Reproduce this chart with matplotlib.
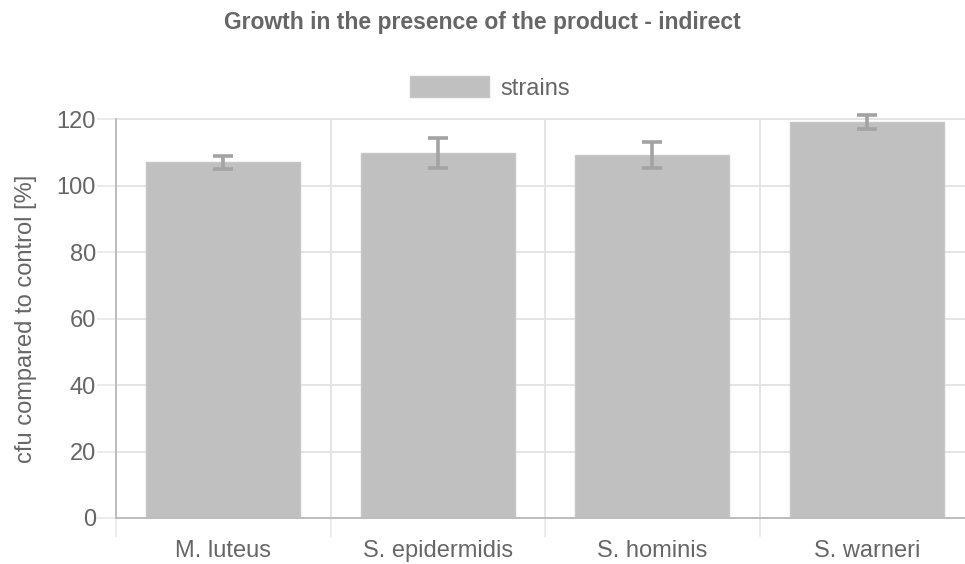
import numpy as np
import matplotlib.pyplot as plt

strains = ['M. luteus', 'S. epidermidis', 'S. hominis', 'S. warneri']
growth = [107.1, 109.8, 109.3, 119.1]
err = [2.0, 4.6, 4.0, 2.1]
y_ticks = [0, 20, 40, 60, 80, 100, 120]

plt.rcParams['font.family'] = ['Liberation Sans', 'DejaVu Sans']
txt = '#666666'
grid_c = '#e5e5e5'
axis_c = '#bdbdbd'

fig = plt.figure(figsize=(9.65, 5.64), dpi=100)
# axes run a little past the right border, like the original
ax = fig.add_axes([116 / 965, 1 - 518 / 564, (974 - 116) / 965, (518 - 119.3) / 564])

x = np.arange(len(strains))
ax.bar(x, growth, width=0.72, color='#c0c0c0', edgecolor='#c6c6c6', linewidth=1,
       label='strains', zorder=2)
ax.errorbar(x, growth, yerr=err, fmt='none', ecolor='#a3a3a3', elinewidth=2.6,
            capsize=7.2, capthick=2.6, zorder=3, clip_on=False)

ax.set_xlim(-0.5, len(strains) - 0.5)
ax.set_ylim(0, 120)
ax.set_yticks(y_ticks)
ax.set_xticks(x)
ax.set_xticklabels(strains)
ax.set_xticks(np.arange(len(strains) + 1) - 0.5, minor=True)

# grid
for v in y_ticks[1:]:
    ax.axhline(v, color=grid_c, lw=1.4, zorder=0, clip_on=False)
for b in np.arange(1, len(strains)) - 0.5:
    ax.axvline(b, color=grid_c, lw=1.4, zorder=0)

for s in ['top', 'right']:
    ax.spines[s].set_visible(False)
ax.spines['left'].set_color(axis_c)
ax.spines['bottom'].set_color(axis_c)
ax.spines['left'].set_linewidth(1.4)
ax.spines['bottom'].set_linewidth(1.4)

ax.tick_params(axis='y', length=13.5, width=1.1, color=grid_c, labelcolor=txt,
               labelsize=17, pad=1)
ax.tick_params(axis='x', which='major', length=0, labelcolor=txt, labelsize=17, pad=16)
ax.tick_params(axis='x', which='minor', length=13.5, width=1.1, color=grid_c)

ax.set_ylabel('cfu compared to control [%]', color=txt, fontsize=17, labelpad=14)

fig.text(0.5, 1 - 22 / 564, 'Growth in the presence of the product - indirect',
         ha='center', va='center', color=txt, fontsize=16.5, fontweight='bold')

ax.legend(loc='center', bbox_to_anchor=(490 / 965, 1 - 88 / 564),
          bbox_transform=fig.transFigure, frameon=False, fontsize=17,
          labelcolor=txt, handlelength=3.35, handleheight=1.0, handletextpad=0.5)

plt.savefig('out.png', dpi=100)
